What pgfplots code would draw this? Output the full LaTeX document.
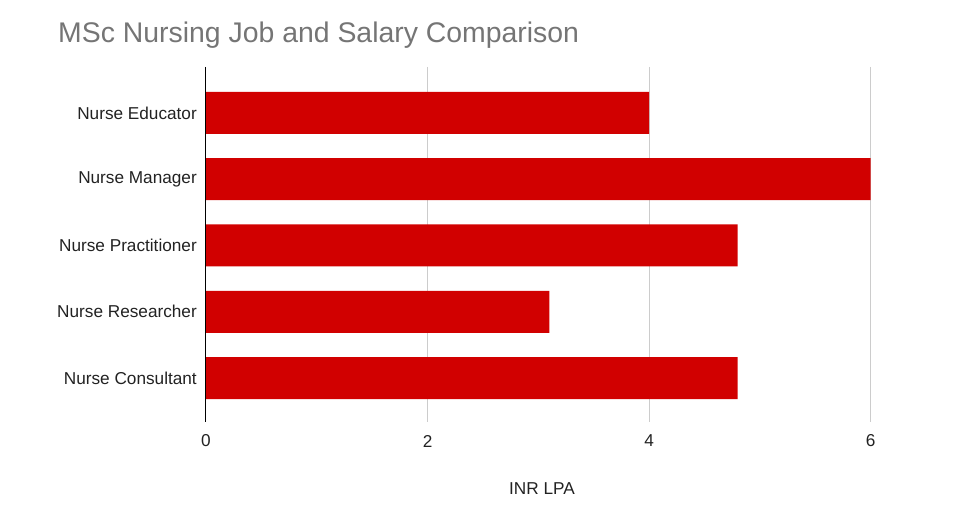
\documentclass[border=0pt]{standalone}
\usepackage{pgfplots}
\pgfplotsset{compat=1.18}
\usepackage{fontspec}
\setmainfont{Liberation Sans}
\definecolor{barred}{RGB}{209,0,0}
\definecolor{titlegrey}{RGB}{117,117,117}
\definecolor{gridgrey}{RGB}{204,204,204}
\definecolor{labelcol}{RGB}{34,34,34}
\begin{document}
\begin{tikzpicture}[x=1pt,y=1pt]
\useasboundingbox (0,0) rectangle (962,517);
\node[anchor=base west, text=titlegrey, font=\fontsize{28.4}{32}\selectfont, inner sep=0] at (58,474) {MSc Nursing Job and Salary Comparison};
\begin{axis}[at={(206pt,95pt)}, anchor=south west, scale only axis,
  width=720pt, height=355pt,
  xbar, bar width=42pt,
  xmin=0, xmax=6.5, ymin=0.306, ymax=5.664, y dir=reverse,
  ytick={1,2,3,4,5},
  yticklabels={Nurse Educator, Nurse Manager, Nurse Practitioner, Nurse Researcher, Nurse Consultant},
  xtick={0,2,4,6},
  xmajorgrids, grid style={gridgrey, line width=1pt},
  axis line style={draw=none},
  major tick length=0pt,
  /pgf/number format/assume math mode=true,
  ticklabel style={font=\fontsize{17.2}{20}\selectfont, text=labelcol, inner sep=0pt},
  xticklabel style={anchor=center, yshift=-19pt},
  yticklabel style={anchor=east, xshift=-9pt},
  clip=false,
]
\addplot[fill=barred, draw=none] coordinates {(4.0,1) (6.0,2) (4.8,3) (3.1,4) (4.8,5)};
\draw[black, line width=1pt] (axis cs:0,0.306) -- (axis cs:0,5.664);
\end{axis}
\node[font=\fontsize{17.2}{20}\selectfont, text=labelcol] at (542,28) {INR LPA};
\end{tikzpicture}
\end{document}
